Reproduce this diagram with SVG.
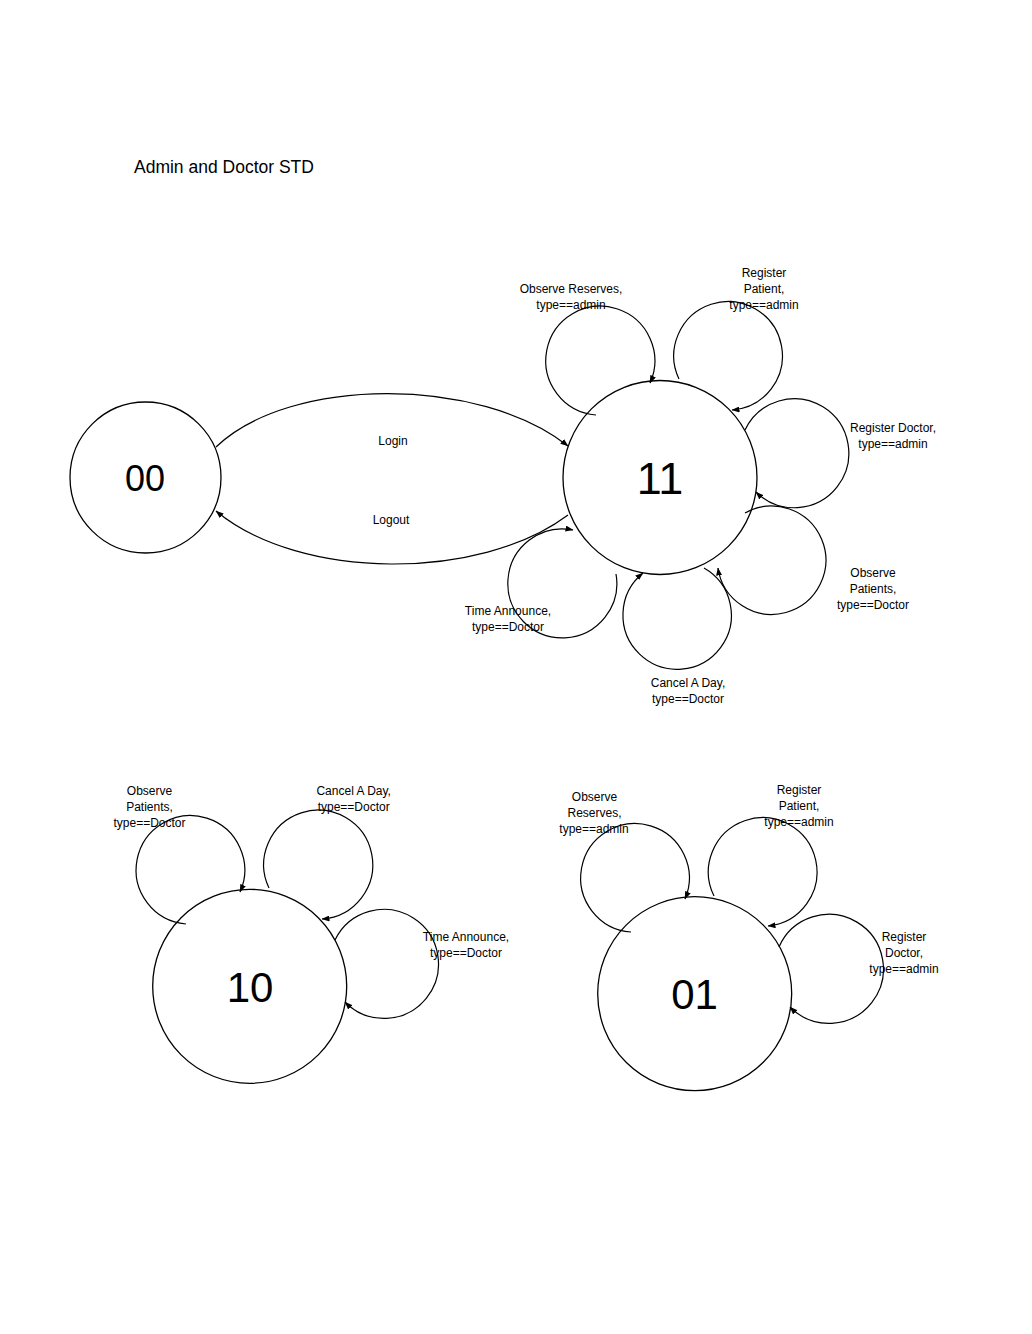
<svg xmlns="http://www.w3.org/2000/svg" width="1032" height="1334" viewBox="0 0 1032 1334">
<style>
.bg{fill:#ffffff}
.state{fill:#ffffff;stroke:#000;stroke-width:1.3}
.sname{font-family:"Liberation Sans",Arial,sans-serif;font-size:42px;fill:#000;text-anchor:middle;dominant-baseline:central}
.edge{fill:none;stroke:#000;stroke-width:1.2;marker-end:url(#arr)}
.lbl{font-family:"Liberation Sans",Arial,sans-serif;font-size:12px;fill:#000;text-anchor:middle}
.title{font-family:"Liberation Sans",Arial,sans-serif;font-size:17.5px;fill:#000}
</style>
<defs>
<marker id="arr" markerWidth="8" markerHeight="6" refX="7.5" refY="3" orient="auto" markerUnits="userSpaceOnUse">
<path d="M0,0 L8,3 L0,6 z" fill="#000"/>
</marker>
</defs>
<rect class="bg" x="0" y="0" width="1032" height="1334"/>
<text class="title" x="134" y="173">Admin and Doctor STD</text>

<g id="node-00"><circle class="state" cx="145.5" cy="477.5" r="75.5"/><text class="sname" x="145" y="478" style="font-size:36px">00</text></g>
<g id="node-11"><circle class="state" cx="660" cy="477.5" r="97"/><text class="sname" x="660" y="478" style="font-size:45px">11</text></g>
<g id="node-10"><circle class="state" cx="249.7" cy="986.3" r="97"/><text class="sname" x="250" y="987">10</text></g>
<g id="node-01"><circle class="state" cx="694.7" cy="993.7" r="97"/><text class="sname" x="694.5" y="994">01</text></g>

<g id="connectors">
<path class="edge" d="M216,447 C290,376 480,376 568,446"/>
<text class="lbl" x="393" y="445">Login</text>
<path class="edge" d="M568,515 C480,581 300,581 216,511"/>
<text class="lbl" x="391" y="524">Logout</text>

<!-- state 11 loops -->
<path class="edge" d="M596,415 A54.5,54.5 0 1 1 650,383"/>
<text class="lbl" x="571" y="293">Observe Reserves,</text>
<text class="lbl" x="571" y="309">type==admin</text>

<path class="edge" d="M679,379 A54.3,54.3 0 1 1 732,410"/>
<text class="lbl" x="764" y="277">Register</text>
<text class="lbl" x="764" y="293">Patient,</text>
<text class="lbl" x="764" y="309">type==admin</text>

<path class="edge" d="M745,430 A54.5,54.5 0 1 1 756,492"/>
<text class="lbl" x="893" y="432">Register Doctor,</text>
<text class="lbl" x="893" y="448">type==admin</text>

<path class="edge" d="M745,513 A54.2,54.2 0 1 1 718,568"/>
<text class="lbl" x="873" y="577">Observe</text>
<text class="lbl" x="873" y="593">Patients,</text>
<text class="lbl" x="873" y="609">type==Doctor</text>

<path class="edge" d="M704,568 A54.2,54.2 0 1 1 643,573"/>
<text class="lbl" x="688" y="687">Cancel A Day,</text>
<text class="lbl" x="688" y="703">type==Doctor</text>

<path class="edge" d="M616,574 A54.5,54.5 0 1 1 573,530"/>
<text class="lbl" x="508" y="615">Time Announce,</text>
<text class="lbl" x="508" y="631">type==Doctor</text>

<!-- state 10 loops -->
<path class="edge" d="M186,924 A54.3,54.3 0 1 1 240,892"/>
<text class="lbl" x="149.5" y="795">Observe</text>
<text class="lbl" x="149.5" y="811">Patients,</text>
<text class="lbl" x="149.5" y="827">type==Doctor</text>

<path class="edge" d="M269,888 A54.5,54.5 0 1 1 322,919"/>
<text class="lbl" x="353.7" y="795">Cancel A Day,</text>
<text class="lbl" x="353.7" y="811">type==Doctor</text>

<path class="edge" d="M335,940 A54.5,54.5 0 1 1 345,1002"/>
<text class="lbl" x="466" y="941">Time Announce,</text>
<text class="lbl" x="466" y="957">type==Doctor</text>

<!-- state 01 loops -->
<path class="edge" d="M631,932 A54.3,54.3 0 1 1 685,899"/>
<text class="lbl" x="594.5" y="801">Observe</text>
<text class="lbl" x="594.5" y="817">Reserves,</text>
<text class="lbl" x="594" y="833">type==admin</text>

<path class="edge" d="M714,896 A54.3,54.3 0 1 1 768,926"/>
<text class="lbl" x="799" y="794">Register</text>
<text class="lbl" x="799" y="810">Patient,</text>
<text class="lbl" x="799" y="826">type==admin</text>

<path class="edge" d="M779,947 A54.5,54.5 0 1 1 790,1007"/>
<text class="lbl" x="904" y="941">Register</text>
<text class="lbl" x="904" y="957">Doctor,</text>
<text class="lbl" x="904" y="973">type==admin</text>
</g>
</svg>
